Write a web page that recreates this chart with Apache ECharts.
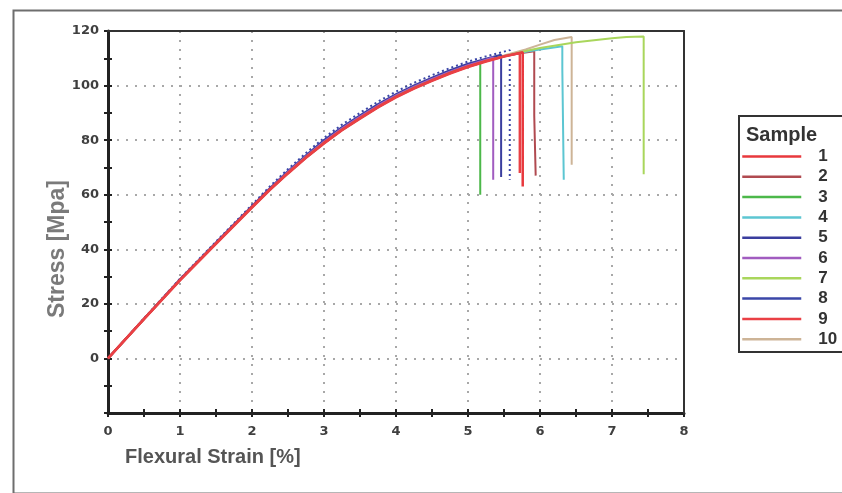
<!DOCTYPE html>
<html>
<head>
<meta charset="utf-8">
<script src="https://cdn.jsdelivr.net/npm/echarts@6/dist/echarts.min.js"></script>
<style>html,body{margin:0;padding:0;background:#fff}#c{width:842px;height:493px}</style>
</head>
<body>
<div id="c"></div>
<script>
// Sample names
const sampleNames = ['1','2','3','4','5','6','7','8','9','10'];
const sampleColors = ['#e8383d','#b04a50','#4cb84a','#5cc6d2','#3a3e9e','#a15cc0','#a9d65c','#3b47a8','#ea4045','#cdb497'];
// Axis tick values
const xTicks = [0,1,2,3,4,5,6,7,8];
const yTicks = [0,20,40,60,80,100,120];

// Each sample: [strain %, stress MPa]
const s1 = [[0,0],[0.5,14.5],[1,28.8],[1.5,42.2],[2,55.5],[2.25,62],[2.5,68],[2.75,73.7],[3,79],[3.25,83.8],[3.5,88.1],[3.75,92.2],[4,95.9],[4.25,99.1],[4.5,101.9],[4.75,104.6],[5,107],[5.25,109],[5.5,110.7],[5.76,112.2],[5.76,63]];
const s2 = [[0,0],[0.5,14.5],[1,28.8],[1.5,42.2],[2,55.5],[2.25,62],[2.5,68],[2.75,73.7],[3,79.1],[3.25,83.9],[3.5,88.2],[3.75,92.3],[4,96],[4.25,99.2],[4.5,102],[4.75,104.7],[5,107.1],[5.25,109.1],[5.5,110.8],[5.75,111.9],[5.92,112.6],[5.92,89],[5.94,89],[5.94,67]];
const s3 = [[0,0],[0.5,14.4],[1,28.7],[1.5,42.1],[2,55.4],[2.25,61.9],[2.5,67.9],[2.75,73.6],[3,78.9],[3.25,83.7],[3.5,88],[3.75,92.1],[4,95.9],[4.25,99.1],[4.5,101.9],[4.75,104.6],[5,107],[5.17,108.2],[5.17,60]];
const s4 = [[0,0],[0.5,14.5],[1,28.8],[1.5,42.2],[2,55.5],[2.25,62],[2.5,68],[2.75,73.7],[3,79],[3.25,83.8],[3.5,88.1],[3.75,92.2],[4,95.9],[4.25,99.1],[4.5,101.9],[4.75,104.6],[5,107],[5.25,109],[5.5,110.7],[5.8,112.4],[6,113.2],[6.31,114.4],[6.31,106],[6.33,105.5],[6.33,65.5]];
const s5 = [[0,0],[0.5,14.6],[1,29],[1.5,42.5],[2,55.9],[2.25,62.5],[2.5,68.7],[2.75,74.5],[3,80],[3.25,84.8],[3.5,89.1],[3.75,93.2],[4,96.9],[4.25,100.1],[4.5,102.9],[4.75,105.6],[5,108],[5.25,109.8],[5.46,111.3],[5.46,66.5]];
const s6 = [[0,0],[0.5,14.5],[1,28.9],[1.5,42.4],[2,55.7],[2.25,62.3],[2.5,68.4],[2.75,74.1],[3,79.5],[3.25,84.3],[3.5,88.6],[3.75,92.7],[4,96.4],[4.25,99.6],[4.5,102.4],[4.75,105.1],[5,107.5],[5.25,109.5],[5.35,110.4],[5.35,65.5]];
const s7 = [[0,0],[0.5,14.5],[1,28.8],[1.5,42.2],[2,55.5],[2.25,62],[2.5,68],[2.75,73.7],[3,79],[3.25,83.8],[3.5,88.1],[3.75,92.2],[4,95.9],[4.25,99.1],[4.5,101.9],[4.75,104.6],[5,107],[5.25,109],[5.5,110.7],[5.8,112.7],[6,113.8],[6.5,115.9],[7,117.3],[7.2,117.8],[7.44,118],[7.44,67.5]];
const s8 = [[0,0],[0.5,14.7],[1,29.2],[1.5,42.8],[2,56.3],[2.25,63.1],[2.5,69.4],[2.75,75.3],[3,80.8],[3.25,85.7],[3.5,90],[3.75,94.1],[4,97.8],[4.25,101],[4.5,103.8],[4.75,106.4],[5,108.8],[5.25,110.7],[5.58,113],[5.58,65.5]];
const s9 = [[0,0],[0.5,14.4],[1,28.6],[1.5,42],[2,55.3],[2.25,61.8],[2.5,67.8],[2.75,73.5],[3,78.8],[3.25,83.6],[3.5,87.9],[3.75,92],[4,95.7],[4.25,98.9],[4.5,101.7],[4.75,104.4],[5,106.8],[5.25,108.8],[5.5,110.6],[5.72,111.9],[5.72,68]];
const s10 = [[0,0],[0.5,14.5],[1,28.8],[1.5,42.2],[2,55.5],[2.25,62],[2.5,68.1],[2.75,73.8],[3,79.1],[3.25,83.9],[3.5,88.2],[3.75,92.3],[4,96],[4.25,99.2],[4.5,102],[4.75,104.7],[5,107.1],[5.25,109.2],[5.5,111],[5.8,113.2],[6,115],[6.2,116.7],[6.44,117.8],[6.44,71]];
const sampleData = [s1,s2,s3,s4,s5,s6,s7,s8,s9,s10];

const chart = echarts.init(document.getElementById('c'), null, {renderer:'canvas'});
const tickFont = {fontFamily:'DejaVu Sans', fontWeight:'bold', fontSize:13, color:'#3f3f3f'};
const gridLine = {show:true, lineStyle:{color:'#a8a8a8', width:2, type:[2,7]}};
const tickStyle = {color:'#222', width:2};

const zOrder = [5,3,4,3,3,3,3,4,6,2];
const series = sampleNames.map((n,i)=>({
  name:n, type:'line', data:sampleData[i], xAxisIndex:0, yAxisIndex:0,
  symbol:'none', z:zOrder[i], animation:false,
  lineStyle:{color:sampleColors[i], width:(i===0||i===8)?2.5:2, type: i===7 ? [2,3] : 'solid'},
  itemStyle:{color:sampleColors[i]}
}));

chart.setOption({
  animation:false,
  backgroundColor:'#fff',
  grid:{left:108, right:158, top:31, bottom:80, show:false},
  xAxis:[
    {type:'value', min:0, max:8, interval:1,
     axisLine:{show:true, onZero:false, lineStyle:{color:'#222', width:3}},
     axisTick:{show:true, length:4, lineStyle:tickStyle},
     minorTick:{show:true, splitNumber:2, length:4, lineStyle:tickStyle},
     axisLabel:Object.assign({margin:12, formatter:v=>xTicks.includes(v)?String(v):''}, tickFont),
     splitLine:gridLine},
    {type:'value', min:0, max:8, interval:1, position:'bottom',
     axisLine:{show:false, onZero:false},
     axisTick:{show:true, inside:true, length:4, lineStyle:tickStyle},
     minorTick:{show:true, splitNumber:2, length:4, lineStyle:tickStyle},
     axisLabel:{show:false}, splitLine:{show:false}},
    {type:'value', min:0, max:8, position:'top', z:10,
     axisLine:{show:true, onZero:false, lineStyle:{color:'#333', width:2}},
     axisTick:{show:false}, axisLabel:{show:false}, splitLine:{show:false}}
  ],
  yAxis:[
    {type:'value', min:-20, max:120, interval:20,
     axisLine:{show:true, onZero:false, lineStyle:{color:'#222', width:3}},
     axisTick:{show:true, length:4, lineStyle:tickStyle},
     minorTick:{show:true, splitNumber:2, length:4, lineStyle:tickStyle},
     axisLabel:Object.assign({margin:9, formatter:v=>yTicks.includes(v)?String(v):''}, tickFont),
     splitLine:gridLine},
    {type:'value', min:-20, max:120, interval:20, position:'left',
     axisLine:{show:false, onZero:false},
     axisTick:{show:true, inside:true, length:4, lineStyle:tickStyle},
     minorTick:{show:true, splitNumber:2, length:4, lineStyle:tickStyle},
     axisLabel:{show:false}, splitLine:{show:false}},
    {type:'value', min:-20, max:120, position:'right', z:10,
     axisLine:{show:true, onZero:false, lineStyle:{color:'#333', width:2}},
     axisTick:{show:false}, axisLabel:{show:false}, splitLine:{show:false}}
  ],
  legend:{
    orient:'vertical', left:741, top:148, padding:0,
    itemWidth:59, itemHeight:14, itemGap:3.3,
    itemStyle:{opacity:0},
    data:sampleNames.map((n,i)=>({name:n, lineStyle:{type:'solid', width:2.5}})),
    textStyle:{fontFamily:'Liberation Sans', fontWeight:'bold', fontSize:17, color:'#333', padding:[0,0,0,12]},
    selectedMode:false
  },
  graphic:[
    {type:'rect', left:11, top:8, shape:{width:840, height:483}, style:{fill:'none', stroke:'#6e6e6e', lineWidth:2}, silent:true},
    {type:'rect', left:738, top:115, shape:{width:110, height:236}, style:{fill:'#fff', stroke:'#333', lineWidth:2}, z:-1, silent:true},
    {type:'text', left:746, top:125, style:{text:'Sample', font:'bold 20px "Liberation Sans"', fill:'#333'}},
    {type:'text', left:125, top:447, style:{text:'Flexural Strain [%]', font:'bold 20px "Liberation Sans"', fill:'#555'}},
    {type:'text', x:46, y:318, rotation:Math.PI/2, style:{text:'Stress [Mpa]', font:'bold 23px "Liberation Sans"', fill:'#7a7a7a', textAlign:'left', textVerticalAlign:'top'}}
  ],
  series:series
});
</script>
</body>
</html>
